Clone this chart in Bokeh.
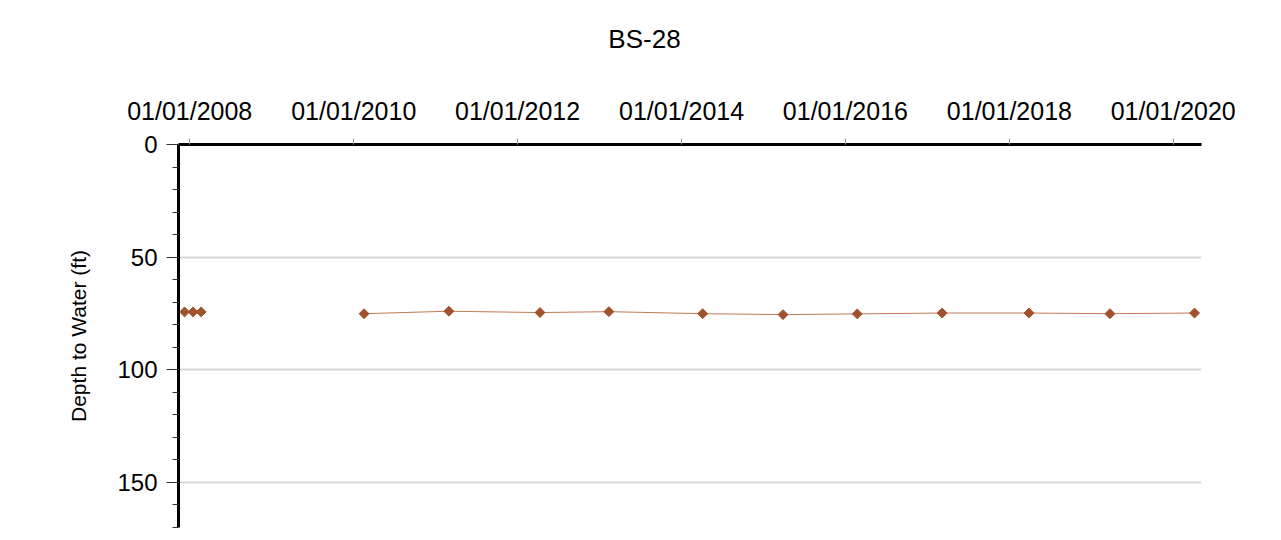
import numpy as np
import pandas as pd
from bokeh.plotting import figure
from bokeh.models import (Range1d, FixedTicker, ColumnDataSource, DatetimeTickFormatter,
                          Label, BoxAnnotation, PolyAnnotation)
from bokeh.embed import file_html
from bokeh.resources import INLINE

# ---- data ----
title_text = "BS-28"
y_label = "Depth to Water (ft)"
dates = ["2007-12-09", "2008-01-16", "2008-02-21", "2010-02-16", "2011-03-01",
         "2012-04-10", "2013-02-11", "2014-04-05", "2015-03-29", "2016-02-23",
         "2017-03-07", "2018-03-29", "2019-03-25", "2020-04-05"]
depth = [74.3, 74.3, 74.3, 75.1, 74.0, 74.6, 74.2, 75.1, 75.5, 75.2,
         74.8, 74.8, 75.1, 74.8]
x_tick_labels = ["01/01/2008", "01/01/2010", "01/01/2012", "01/01/2014",
                 "01/01/2016", "01/01/2018", "01/01/2020"]
y_ticks = [0, 50, 100, 150]
y_minor_ticks = list(range(0, 171, 10))
x_start, x_end = pd.Timestamp("2007-11-12"), pd.Timestamp("2020-05-06")
y_top, y_bottom = 0, 170

FONT = "Liberation Sans"
MARKER = "#a0522d"
LINE = "#c27a55"
BORDER = "#dcdcdc"
W, H = 1275, 535
FRAME_L, FRAME_R, FRAME_T, FRAME_B = 178, 1201, 144, 527

dt = pd.to_datetime(dates)
# line breaks across long gaps in the record
lx, ly = [], []
for i in range(len(dt)):
    if i > 0 and (dt[i] - dt[i - 1]).days > 540:
        lx.append(dt[i - 1] + (dt[i] - dt[i - 1]) / 2)
        ly.append(np.nan)
    lx.append(dt[i])
    ly.append(depth[i])

pts = ColumnDataSource(dict(x=dt, y=depth))
lines = ColumnDataSource(dict(x=lx, y=ly))

p = figure(width=W, height=H, x_axis_type="datetime", x_axis_location="above",
           x_range=Range1d(x_start, x_end),
           y_range=Range1d(y_bottom, y_top),
           output_backend="svg", toolbar_location=None,
           min_border_left=FRAME_L, min_border_right=W - FRAME_R,
           min_border_top=FRAME_T, min_border_bottom=H - FRAME_B)
p.outline_line_color = None
p.background_fill_color = "white"
p.border_fill_color = "white"

# title, centred on the whole chart above the top axis (canvas pixels)
p.add_layout(Label(x=644, y=38, x_units="canvas", y_units="canvas", text=title_text,
                   text_font=FONT, text_font_size="26px", text_color="black",
                   text_align="center", text_baseline="middle"), "above")

# outer light-grey frame of the chart (top and left edges are inside the picture)
p.add_layout(PolyAnnotation(xs=[6, W + 40, W + 40, 6], ys=[6, 6, H + 40, H + 40],
                            xs_units="canvas", ys_units="canvas",
                            fill_color=None, fill_alpha=0, line_color=BORDER,
                            line_width=3), "left")

p.line("x", "y", source=lines, line_color=LINE, line_width=1)
p.scatter("x", "y", source=pts, marker="square", angle=np.pi / 4, size=7,
          fill_color=MARKER, line_color=MARKER)

# x axis (top)
xa = p.xaxis[0]
xa.ticker = FixedTicker(ticks=[pd.Timestamp(pd.to_datetime(s, format="%m/%d/%Y")).value / 1e6
                               for s in x_tick_labels])
fmt = "%m/%d/%Y"
xa.formatter = DatetimeTickFormatter(years=fmt, months=fmt, days=fmt, hours=fmt,
                                     minutes=fmt, seconds=fmt, milliseconds=fmt,
                                     microseconds=fmt, minsec=fmt, hourmin=fmt)
xa.axis_line_width = 3
xa.axis_line_color = "black"
xa.major_tick_in = 0
xa.major_tick_out = 6
xa.major_tick_line_color = "#999999"
xa.minor_tick_line_color = None
xa.major_label_text_font = FONT
xa.major_label_text_font_size = "25px"
xa.major_label_text_color = "black"
xa.major_label_standoff = 14

# y axis
ya = p.yaxis[0]
ya.ticker = FixedTicker(ticks=y_ticks, minor_ticks=y_minor_ticks)
ya.axis_label = y_label
ya.axis_label_text_font = FONT
ya.axis_label_text_font_size = "21px"
ya.axis_label_text_font_style = "normal"
ya.axis_label_text_color = "black"
ya.axis_label_standoff = 24
ya.axis_line_width = 3
ya.axis_line_color = "black"
ya.major_tick_in = 0
ya.major_tick_out = 12
ya.minor_tick_in = 0
ya.minor_tick_out = 6
ya.major_tick_line_color = "#333333"
ya.minor_tick_line_color = "#333333"
ya.major_label_text_font = FONT
ya.major_label_text_font_size = "24px"
ya.major_label_text_color = "black"
ya.major_label_standoff = 9

p.xgrid.grid_line_color = None
p.ygrid.ticker = FixedTicker(ticks=y_ticks)
p.ygrid.grid_line_color = "#d9d9d9"
p.ygrid.grid_line_width = 2

open("out.html", "w").write(file_html(p, INLINE))
